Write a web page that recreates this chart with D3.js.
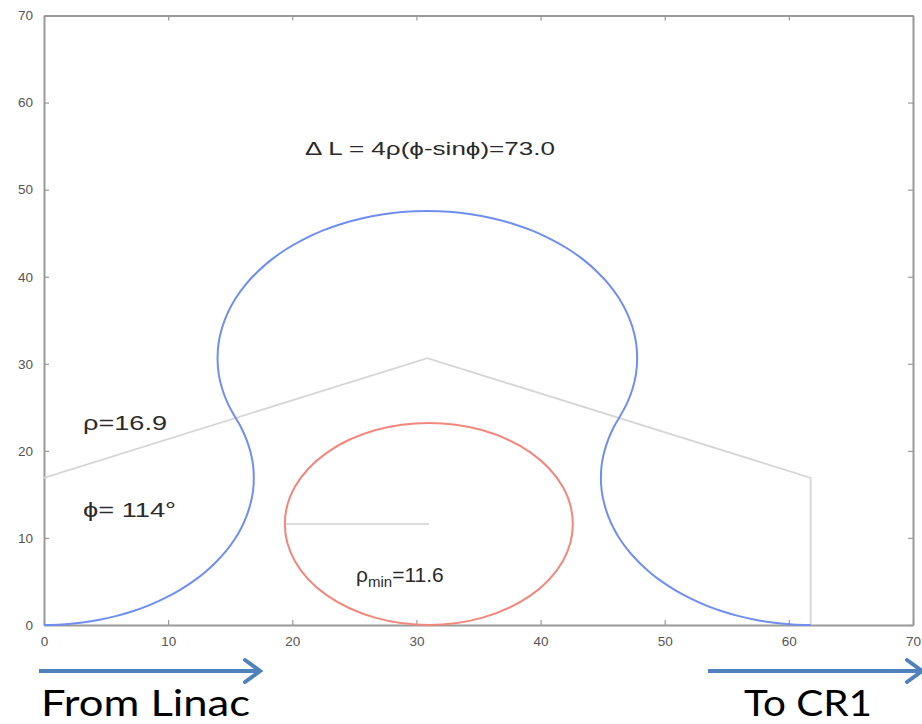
<!DOCTYPE html>
<html>
<head>
<meta charset="utf-8">
<script src="https://cdn.jsdelivr.net/npm/d3@7"></script>
<style>
  html, body { margin: 0; padding: 0; background: #fff; }
  svg { display: block; }
</style>
</head>
<body>
<svg id="chart" width="922" height="724"></svg>
<script>
// ---------- data ----------
const xTicks = [0, 10, 20, 30, 40, 50, 60, 70];
const yTicks = [0, 10, 20, 30, 40, 50, 60, 70];

// blue beam trajectory (x, y)
const orbitX = [
  0, 1.47, 2.94, 4.37, 5.78, 7.14, 8.45, 9.69, 10.86, 11.95, 12.95, 13.84, 14.64, 15.32, 15.88, 16.32, 16.64, 16.84, 16.9,
  16.84, 16.64, 16.32, 15.88, 15.44,
  14.81, 14.35, 14.07, 13.98, 14.07, 14.35, 14.81, 15.44, 16.24, 17.21, 18.32, 19.57, 20.95, 22.43, 24.01, 25.66, 27.37, 29.11,
  30.88, 32.65, 34.39, 36.1, 37.75, 39.33, 40.81, 42.19, 43.44, 44.55, 45.52, 46.32, 46.95, 47.41, 47.69, 47.78, 47.69, 47.41, 46.95, 46.32,
  45.88, 45.44, 45.12, 44.92, 44.86, 44.92, 45.12, 45.44, 45.88, 46.44, 47.12, 47.92, 48.81, 49.81, 50.9, 52.07, 53.31, 54.62, 55.98, 57.39, 58.83, 60.29, 61.76];
const orbitY = [
  0, 0.06, 0.26, 0.58, 1.02, 1.58, 2.26, 3.06, 3.95, 4.95, 6.04, 7.21, 8.45, 9.76, 11.12, 12.53, 13.97, 15.43, 16.9,
  18.37, 19.84, 21.27, 22.68, 23.78,
  25.43, 27.14, 28.88, 30.65, 32.42, 34.16, 35.87, 37.52, 39.1, 40.58, 41.96, 43.21, 44.32, 45.29, 46.09, 46.72, 47.18, 47.46,
  47.55, 47.46, 47.18, 46.72, 46.09, 45.29, 44.32, 43.21, 41.96, 40.58, 39.1, 37.52, 35.87, 34.16, 32.42, 30.65, 28.88, 27.14, 25.43, 23.78,
  22.68, 21.27, 19.84, 18.37, 16.9, 15.43, 13.97, 12.53, 11.12, 9.76, 8.45, 7.21, 6.04, 4.95, 3.95, 3.06, 2.26, 1.58, 1.02, 0.58, 0.26, 0.06, 0];

// grey construction line through the bend centres
const guideX = [0, 30.88, 61.76, 61.76];
const guideY = [16.9, 30.65, 16.9, 0];

// minimum-radius circle (red) and its radius line
const rhoMin = 11.6;
const circleCenter = [31, 11.6];
const radiusLineX = [19.4, 31];
const radiusLineY = [11.6, 11.6];

// ---------- layout ----------
const svg = d3.select("#chart");
const x = d3.scaleLinear().domain([0, 70]).range([44, 913]);
const y = d3.scaleLinear().domain([0, 70]).range([625, 15.5]);

const axisColor = "#9a9a9a";
const tickFont = "Liberation Sans, Arial, sans-serif";

function styleAxis(g, showLabels) {
  g.select(".domain").attr("stroke", axisColor).attr("stroke-width", 2);
  g.selectAll(".tick line").attr("stroke", axisColor).attr("stroke-width", 1.2);
  g.selectAll(".tick text")
    .attr("fill", "#555")
    .style("font-family", tickFont)
    .style("font-size", "13.5px")
    .style("display", showLabels ? null : "none");
}

svg.append("g").attr("transform", `translate(0,${y(0)})`)
  .call(d3.axisBottom(x).tickValues(xTicks).tickSizeInner(-5).tickSizeOuter(0).tickPadding(11))
  .call(g => styleAxis(g, true));
svg.append("g").attr("transform", `translate(0,${y(70)})`)
  .call(d3.axisTop(x).tickValues(xTicks).tickSizeInner(-5).tickSizeOuter(0))
  .call(g => styleAxis(g, false));
svg.append("g").attr("transform", `translate(${x(0)},0)`)
  .call(d3.axisLeft(y).tickValues(yTicks).tickSizeInner(-5).tickSizeOuter(0).tickPadding(11))
  .call(g => styleAxis(g, true));
svg.append("g").attr("transform", `translate(${x(70)},0)`)
  .call(d3.axisRight(y).tickValues(yTicks).tickSizeInner(-5).tickSizeOuter(0))
  .call(g => styleAxis(g, false));

const line = d3.line().x(d => x(d[0])).y(d => y(d[1]));
const smooth = d3.line().x(d => x(d[0])).y(d => y(d[1])).curve(d3.curveCatmullRom);

// grey guide line
svg.append("path")
  .attr("d", line(d3.zip(guideX, guideY)))
  .attr("fill", "none").attr("stroke", "#d6d6d6").attr("stroke-width", 1.8);

// radius line
svg.append("path")
  .attr("d", line(d3.zip(radiusLineX, radiusLineY)))
  .attr("fill", "none").attr("stroke", "#d0d0d0").attr("stroke-width", 1.5);

// red circle
svg.append("ellipse")
  .attr("cx", x(circleCenter[0]))
  .attr("cy", y(circleCenter[1]))
  .attr("rx", x(circleCenter[0] + rhoMin) - x(circleCenter[0]))
  .attr("ry", y(circleCenter[1]) - y(circleCenter[1] + rhoMin))
  .attr("fill", "none").attr("stroke", "#f2877c").attr("stroke-width", 2);

// blue orbit
svg.append("path")
  .attr("d", smooth(d3.zip(orbitX, orbitY)))
  .attr("fill", "none").attr("stroke", "#6f8ef0").attr("stroke-width", 2)
  .attr("stroke-linejoin", "round");

// annotations
const annFont = "Liberation Sans, Arial, sans-serif";
function ann(txt, px, py, size, len) {
  const t = svg.append("text")
    .attr("x", px).attr("y", py)
    .attr("fill", "#2a2a2a")
    .style("font-family", annFont)
    .style("font-size", size + "px")
    .text(txt);
  if (len) t.attr("textLength", len).attr("lengthAdjust", "spacingAndGlyphs");
  return t;
}
ann("\u0394 L = 4\u03c1(\u03d5-sin\u03d5)=73.0", 305, 155, 18, 250);
ann("\u03c1=16.9", 83, 430, 21, 84);
ann("\u03d5= 114\u00b0", 83, 517, 21, 93);

const rm = svg.append("text")
  .attr("x", 356).attr("y", 582)
  .attr("fill", "#2a2a2a")
  .style("font-family", annFont)
  .style("font-size", "21px");
rm.append("tspan").text("\u03c1");
rm.append("tspan").attr("dy", 5).style("font-size", "15px").text("min");
rm.append("tspan").attr("dy", -5).text("=11.6");

// arrows & labels
const arrowColor = "#4f81bd";
function arrow(x1, x2, yy) {
  svg.append("line").attr("x1", x1).attr("x2", x2 - 2).attr("y1", yy).attr("y2", yy)
    .attr("stroke", arrowColor).attr("stroke-width", 4);
  svg.append("path")
    .attr("d", `M${x2 - 15},${yy - 11} L${x2},${yy} L${x2 - 15},${yy + 11}`)
    .attr("fill", "none").attr("stroke", arrowColor).attr("stroke-width", 4)
    .attr("stroke-linecap", "round").attr("stroke-linejoin", "miter");
}
arrow(39, 260, 671);
arrow(708, 922, 671);

const bigFont = "Lato, 'Open Sans', sans-serif";
svg.append("text").attr("x", 41).attr("y", 716)
  .style("font-family", bigFont).style("font-size", "37px").attr("fill", "#000")
  .attr("textLength", 209).attr("lengthAdjust", "spacingAndGlyphs")
  .text("From Linac");
svg.append("text").attr("x", 744).attr("y", 716)
  .style("font-family", bigFont).style("font-size", "37px").attr("fill", "#000")
  .attr("textLength", 128).attr("lengthAdjust", "spacingAndGlyphs")
  .text("To CR1");
</script>
</body>
</html>
